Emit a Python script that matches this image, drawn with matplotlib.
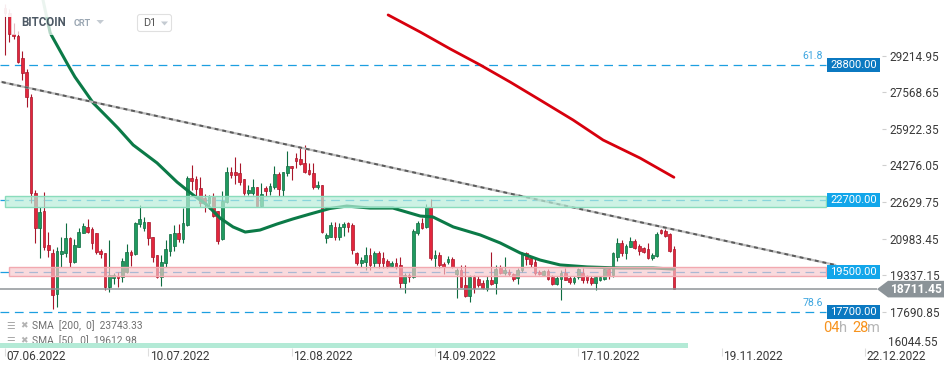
import matplotlib
matplotlib.use('Agg')
import matplotlib.pyplot as plt
from matplotlib.patches import Rectangle, Polygon, FancyBboxPatch
from matplotlib.transforms import Affine2D, ScaledTranslation
import numpy as np
import pandas as pd

plt.rcParams['font.family'] = ['Roboto', 'DejaVu Sans']

# daily candles, first one is 07.06.2022
start = pd.Timestamp('2022-06-07')
opens = [31370, 31130, 30200, 30110, 29100, 28500, 27350, 23050, 21450, 22230,
         20700, 20350, 18480, 20290, 20350, 21000, 19920, 20620, 21250, 21520,
         21420, 21220, 20440, 20320, 18790, 19200, 19320, 19270, 19500, 20370,
         20290, 21630, 21480, 21720, 21040, 20250, 19270, 19870, 20440, 20670,
         21220, 20970, 21600, 23700, 23650, 23250, 22800, 22600, 22870, 22240,
         20950, 22650, 24000, 24000, 23920, 23650, 23020, 23050, 23290, 22450,
         23250, 23140, 23290, 23890, 23170, 23950, 24250, 24630, 24550, 24370,
         24070, 23950, 23290, 23400, 21000, 21070, 21520, 21070, 21490, 21670,
         21600, 20330, 19870, 19950, 20250, 19870, 20320, 20100, 19980, 19750,
         19900, 19800, 18970, 19350, 19270, 21250, 21670, 21490, 22420, 20100,
         20250, 19840, 19930, 20050, 19380, 19570, 18900, 18400, 19240, 19150,
         18970, 18700, 19120, 18970, 19680, 19420, 19500, 19380, 19200, 19570,
         20320, 20100, 19950, 19500, 19350, 19540, 19270, 18940, 19150, 19450,
         19200, 19050, 19270, 19420, 19300, 19200, 19000, 19120, 19150, 19600,
         19350, 20170, 20770, 20350, 20620, 20890, 20650, 20550, 20500, 20100,
         20200, 21370, 21340, 21190, 20500]
highs = [31550, 31300, 30700, 30330, 29440, 28600, 27500, 23170, 22420, 23100,
         21300, 20520, 20620, 21060, 21690, 21070, 20970, 21450, 21670, 21870,
         21520, 21250, 20520, 20350, 20920, 19450, 19480, 20100, 20740, 20470,
         21750, 22500, 21940, 21720, 21040, 20250, 20250, 20920, 21190, 21600,
         21640, 22350, 23800, 24300, 23800, 23770, 22990, 22950, 23020, 22240,
         23140, 24220, 24220, 24640, 24370, 23650, 23400, 23650, 23290, 23470,
         23330, 23470, 24250, 24000, 24000, 24940, 24260, 24850, 25050, 25200,
         24400, 24400, 23590, 23400, 21250, 21750, 21750, 21700, 21750, 21750,
         21700, 20400, 20150, 20620, 20550, 20440, 20440, 20400, 20050, 19980,
         20100, 20170, 19450, 19450, 21430, 21790, 21900, 22540, 22750, 20470,
         20400, 19920, 20200, 20170, 19650, 19800, 19800, 19350, 19350, 19300,
         19100, 19300, 20400, 19800, 19800, 20170, 19600, 19450, 19650, 20400,
         20400, 20170, 20100, 19550, 19580, 19600, 19350, 19300, 19580, 19650,
         19300, 19300, 19680, 19650, 19350, 19300, 19300, 19300, 19650, 19650,
         20400, 21000, 20900, 20740, 21040, 20950, 20740, 20620, 20770, 20350,
         21300, 21420, 21420, 21250, 20650]
lows = [29250, 29850, 29950, 28900, 28100, 26900, 22590, 20790, 20100, 20480,
        20170, 17820, 17920, 19720, 20170, 19720, 19880, 20590, 21220, 21220,
        20500, 20270, 20100, 18670, 18600, 18940, 18790, 19050, 19420, 19750,
        20250, 21520, 21340, 20700, 19950, 19230, 18850, 19690, 20200, 20440,
        20820, 20770, 21570, 23170, 22800, 22390, 22200, 22330, 21950, 20740,
        20900, 22600, 23700, 23440, 23400, 22950, 22950, 22950, 22450, 22400,
        22900, 22950, 23200, 22920, 22900, 23800, 23620, 24170, 24300, 23950,
        23850, 23200, 23200, 21240, 20770, 21070, 20920, 20920, 21100, 21300,
        20300, 19800, 19700, 19570, 19570, 19690, 19650, 19650, 19680, 19690,
        19600, 18750, 18550, 19050, 19200, 21150, 21400, 21450, 20020, 19650,
        19650, 19390, 19840, 19650, 18300, 18800, 18340, 18150, 18550, 18800,
        18700, 18640, 18900, 18490, 19400, 19350, 19320, 19090, 18940, 19500,
        19800, 19700, 19350, 19350, 19280, 19100, 18900, 18900, 18220, 19100,
        18950, 18950, 19150, 19000, 19000, 18900, 18650, 19080, 19100, 19150,
        19250, 19990, 20200, 20050, 20600, 20500, 20250, 20350, 20070, 20030,
        20170, 21180, 21050, 20400, 18711.45]
closes = [31130, 30200, 30110, 28950, 28450, 27350, 23020, 21450, 22200, 20620,
          20480, 18450, 20430, 20440, 21000, 19950, 20700, 21300, 21570, 21300,
          20770, 20370, 20290, 18790, 19350, 19350, 19200, 19990, 20400, 20250,
          21670, 21850, 21720, 21000, 20170, 19270, 19920, 20520, 21190, 21220,
          20970, 21670, 23700, 23590, 23200, 22570, 22570, 22850, 22000, 20890,
          22690, 23970, 23850, 23850, 23550, 23020, 23170, 23290, 22450, 22990,
          23140, 23350, 23890, 23200, 24000, 24250, 24150, 24480, 24330, 24000,
          23890, 23320, 23400, 21300, 21150, 21600, 21070, 21490, 21630, 21520,
          20450, 19870, 20020, 20250, 19800, 20350, 19870, 19870, 19750, 19900,
          19690, 18970, 19350, 19270, 21340, 21670, 21450, 22420, 20100, 20250,
          19800, 19690, 20060, 19720, 19560, 18820, 18400, 19240, 18750, 18900,
          18750, 19120, 18940, 19600, 19420, 19570, 19380, 19150, 19570, 20320,
          20050, 19840, 19420, 19380, 19540, 19150, 18940, 19200, 19450, 19120,
          19050, 19200, 19600, 19120, 19120, 19000, 19240, 19240, 19600, 19300,
          20320, 20800, 20350, 20650, 20890, 20550, 20440, 20400, 20100, 20250,
          21190, 21220, 21100, 20440, 18711.45]

# moving averages (day offset from start, price)
sma50_day = [8.75, 10.4, 14.5, 16.1, 20.3, 24.2, 26.0, 29.5, 35.0, 39.6, 43.3,
             46.5, 49.5, 52.5, 55.3, 58.7, 62.6, 66.3, 70.2, 74.8, 78.7, 84.0,
             89.3, 95.6, 98.5, 103.2, 109.4, 114.0, 118.6, 123.2, 127.8, 134.0,
             141.6, 149.2, 154.0]
sma50_val = [31720, 30240, 28800, 28260, 27090, 26320, 25960, 25200, 24390, 23530,
             22950, 22500, 21910, 21510, 21280, 21370, 21640, 21870, 22090, 22340,
             22450, 22360, 22360, 22000, 21960, 21510, 21150, 20790, 20340, 20020,
             19800, 19710, 19660, 19660, 19613]
sma200_day = [88.2, 95.6, 102.5, 109.4, 116.3, 123.2, 130.8, 137.7, 146.2, 154.0]
sma200_val = [31050, 30280, 29520, 28800, 28030, 27220, 26320, 25420, 24610, 23743]

trend_day = [-0.7, 191.1]
trend_val = [28030, 19800]

fib_levels = [28800, 17700]
fib_names = ['61.8', '78.6']
zone_levels = [22700, 19500]
zone_low = [22420, 19315]
zone_high = [22900, 19720]
last_price = 18711.45

ytick_vals = [29214.95, 27568.65, 25922.35, 24276.05, 22629.75, 20983.45,
              19337.15, 17690.85, 16044.55]
xtick_days = [0, 33, 66, 99, 132, 165, 198]

W, H = 949, 373
fig = plt.figure(figsize=(W / 100, H / 100), dpi=100)
ax = fig.add_axes([0, 25 / H, 882 / W, 348 / H])
ax.set_xlim(-1.15, 201.9)
ax.set_ylim(16062, 31722)
for s in ax.spines.values():
    s.set_visible(False)

# pixel transform, origin top-left like the screenshot
pix = Affine2D().scale(1 / W, -1 / H).translate(0, 1) + fig.transFigure


def ypix(v):
    return H - ax.transData.transform((0, v))[1]


def xday(px):
    return ax.transData.inverted().transform((px, 0))[0]


# candles
x = np.arange(len(opens))
o = np.array(opens)
c = np.array(closes)
up = c >= o
fill = np.where(up, '#1f9a5f', '#e3263c')
edge = np.where(up, '#0e6c40', '#a8162a')
ax.vlines(x, lows, highs, colors=edge, lw=0.8, zorder=2)
ax.bar(x, np.maximum(np.abs(c - o), 40), bottom=np.minimum(o, c), width=0.62,
       color=fill, edgecolor=edge, linewidth=0.5, zorder=2.1)

# SMAs and trend line
ax.plot(sma50_day, sma50_val, color='#0b7a47', lw=2.2, zorder=3, solid_capstyle='round')
ax.plot(sma200_day, sma200_val, color='#d7000d', lw=2.0, zorder=3, solid_capstyle='round')
ax.plot(trend_day, trend_val, color='#bdbdbd', lw=1.6, zorder=3.2)
ax.plot(trend_day, trend_val, color='#5a5a5a', lw=1.4, ls=(0, (2, 2)), zorder=3.3)

x_end = xday(826)
dash = (0, (7, 4.5))
for lv in fib_levels + zone_levels:
    ax.hlines(lv, -1.15, x_end, colors='#1c9fe0', lw=0.9, linestyles=dash, zorder=1.5)

# zones drawn on top, semi transparent
ax.add_patch(Rectangle((0, zone_low[0]), x_end, zone_high[0] - zone_low[0],
                       fc=(0.72, 0.93, 0.85, 0.7), ec='#8adcbc', lw=1.0, zorder=5))
ax.add_patch(Rectangle((1, zone_low[1]), x_end - 1, zone_high[1] - zone_low[1],
                       fc=(0.97, 0.78, 0.80, 0.65), ec='#f2a9b0', lw=1.0, zorder=5))

ax.hlines(last_price, -1.15, xday(877), colors='#8f9498', lw=1.1, zorder=4)

# axes ticks
ax.yaxis.tick_right()
ax.set_yticks(ytick_vals[:-1])
ax.set_yticklabels(['%.2f' % v for v in ytick_vals[:-1]])
ax.tick_params(axis='y', length=3, width=0.8, color='#cfcfcf', labelsize=8.5,
               labelcolor='#3a3a3a', pad=2.5)
fig.text(888 / W, 1 - 342 / H, '%.2f' % ytick_vals[-1], fontsize=8.5,
         color='#3a3a3a', va='center', ha='left')

ax.set_xticks(xtick_days)
ax.set_xticklabels([(start + pd.Timedelta(days=d)).strftime('%d.%m.%Y') for d in xtick_days])
ax.tick_params(axis='x', length=6, width=0.8, color='#dedede', labelsize=8.6,
               labelcolor='#3a3a3a', pad=-4.5)
for lab in ax.get_xticklabels():
    lab.set_ha('left')
    lab.set_transform(lab.get_transform() + ScaledTranslation(1.5 / 100, 0, fig.dpi_scale_trans))

# price boxes on the right
box_cols = {28800: '#0b79c1', 22700: '#12a6ea', 19500: '#12a6ea', 17700: '#0b79c1'}
for lv in fib_levels + zone_levels:
    yp = ypix(lv)
    fig.add_artist(Rectangle((827, yp - 7), 53, 14, transform=pix, fc=box_cols[lv], ec='none'))
    fig.text(853.5 / W, 1 - yp / H, '%.2f' % lv, color='white', fontsize=8,
             ha='center', va='center')
for lv, name in zip(fib_levels, fib_names):
    yp = ypix(lv)
    fig.text(823 / W, 1 - (yp - 8.5) / H, name, color='#3ea6e0', fontsize=7.6,
             ha='right', va='center')

# last price tag
yp = ypix(last_price)
fig.add_artist(Polygon([(877, yp), (888, yp - 8.3), (944, yp - 8.3), (944, yp + 8.3),
                        (888, yp + 8.3)], closed=True, transform=pix, fc='#8b9398', ec='none'))
fig.text(916 / W, 1 - yp / H, '%.2f' % last_price, color='white', fontsize=8.7,
         fontweight='bold', ha='center', va='center')

# countdown
for txt, xp, col in [('04', 823, '#f7931e'), ('h', 838.5, '#b5b5b5'),
                     ('28', 852, '#f7931e'), ('m', 867, '#b5b5b5')]:
    fig.text(xp / W, 1 - 328 / H, txt, color=col, fontsize=10.5, ha='left', va='center')

# header overlay
fig.add_artist(Rectangle((0, 0), 185, 17, transform=pix, fc='white', ec='none', alpha=0.92))
fig.add_artist(Rectangle((11, 17), 174, 18, transform=pix, fc='white', ec='none', alpha=0.7))
fig.text(21 / W, 1 - 23 / H, 'BITCOIN', fontsize=8.3, fontweight='bold', color='#4d5965',
         va='center', ha='left')
fig.text(74 / W, 1 - 24 / H, 'CRT', fontsize=6.5, fontweight='bold', color='#9ba7b3',
         va='center', ha='left')
fig.add_artist(Polygon([(96.5, 20), (104, 20), (100.2, 24)], transform=pix, fc='#c4cbd2', ec='none'))
fig.add_artist(FancyBboxPatch((137.5, 14.5), 34, 17, boxstyle='round,pad=0,rounding_size=2.5',
                              transform=pix, fc='white', ec='#e0e0e0', lw=0.8))
fig.text(143 / W, 1 - 23.5 / H, 'D1', fontsize=7.8, color='#555555', va='center', ha='left')
fig.add_artist(Polygon([(161, 21.5), (168, 21.5), (164.5, 25.5)], transform=pix, fc='#c4cbd2', ec='none'))

# indicator legend
for yy, txt in [(326, 'SMA  [200,  0]  23743.33'), (340.5, 'SMA  [50,  0]  19612.98')]:
    fig.text(6 / W, 1 - yy / H, '\u2630', fontsize=7, color='#a9a9a9', va='center', ha='left')
    fig.text(20 / W, 1 - yy / H, '\u2716', fontsize=6.5, color='#b3b3b3', va='center', ha='left')
    fig.text(32 / W, 1 - yy / H, txt, fontsize=7.4, color='#707070', va='center', ha='left')

# scroll bar
fig.add_artist(Rectangle((0, 343.3), 688, 4.3, transform=pix, fc='#b3ead6', ec='none', zorder=10))

fig.savefig('out.png', dpi=100)
